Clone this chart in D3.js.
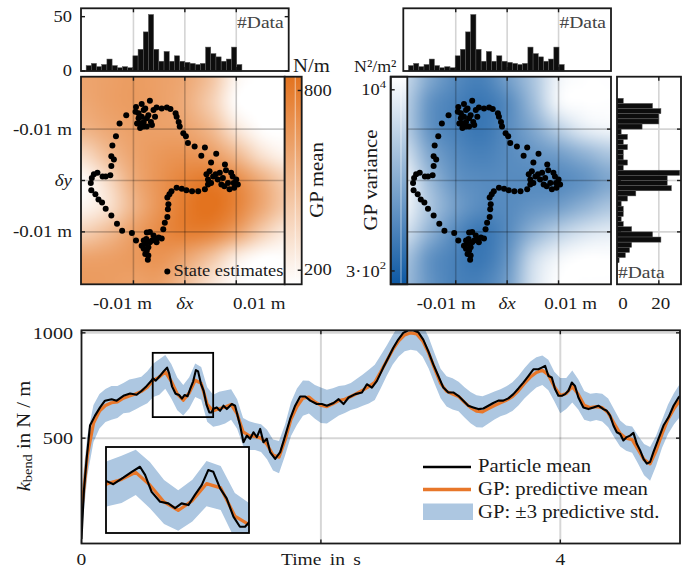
<!DOCTYPE html>
<html>
<head>
<meta charset="utf-8">
<script src="https://cdn.jsdelivr.net/npm/d3@7"></script>
<style>
  body { margin: 0; background: #fff; }
  svg { display: block; background: #fff; }
  text { font-family: "Liberation Serif", "Times New Roman", serif; }
</style>
</head>
<body>
<svg id="chart" width="686" height="571"></svg>
<script>
// ---------- data (positions in mm, stiffness in N/m, time in s) ----------

// histogram of delta x (top), bins of ~1 mm starting at histXStart
const histXStart = -19.2;
const histXWidth = 1.01;
const histXCounts = [5, 7, 4, 6, 11, 5, 3, 4, 3, 14, 20, 36, 52, 20, 9, 18, 9, 14, 9, 8, 7, 6, 7, 22, 16, 13, 9, 11, 22, 6];

// histogram of delta y (side), bins from histYStart downwards
const histYStart = 16.0;
const histYWidth = 1.0;
const histYCounts = [3, 17, 21, 20, 20, 12, 2, 5, 3, 5, 3, 3, 5, 3, 30, 24, 24, 26, 9, 5, 2, 3, 3, 2, 3, 7, 17, 21, 7, 6, 4, 1];

// state estimates (delta x, delta y) in mm
const dotsX = [-11.4, -12.7, -13.4, -14.1, -14.3, -13.8, -14.3, -14.5, -15.4, -16.0, -17.0, -17.7, -18.1, -18.3, -18.2, -17.4, -16.8, -16.1, -15.4, -14.3,
  -13.2, -12.2, -10.3, -9.5, -8.4, -8.0, -7.5, -7.4, -6.8, -6.1, -6.8, -7.7, -7.1, -8.0, -7.4, -7.7, -7.1, -7.2, -6.4, -5.8,
  -5.5, -5.1, -4.5, -4.2, -3.9, -3.4, -3.3, -3.2, -3.4, -3.0, -2.6, -1.6, -0.6, 0.3, 1.4, 2.6, 3.9, 4.5, 4.2, 4.8,
  5.5, 4.5, 5.1, 6.0, 6.8, 7.4, 7.1, 7.7, 8.7, 9.6, 10.3, 10.0, 9.3, 9.0, 8.0, 6.4, 8.4, 9.5, 7.8, 6.1,
  5.1, 3.9, 3.2, 1.9, 0.6, 0.2, -0.3, -1.0, -1.2, -1.6, -1.8, -2.8, -3.5, -4.5, -5.5, -6.8, -8.4, -9.5, -7.7, -6.1,
  -9.0, -8.0, -7.1, -8.4, -9.0, -7.4, -5.8, -6.6, -8.0, -9.3, -7.4, -8.7, -6.4, -9.6, -8.0, -8.7];
const dotsY = [12.7, 11.1, 8.6, 6.8, 4.7, 4.1, 2.8, 1.0, 0.8, 0.8, 1.5, 1.2, 0.5, -0.5, -1.9, -2.7, -3.7, -4.3, -5.5, -6.8,
  -8.4, -9.8, -10.2, -11.7, -12.7, -11.7, -11.4, -10.1, -10.0, -10.7, -12.0, -12.3, -13.0, -13.3, -13.6, -14.3, -14.6, -15.4, -11.7, -11.4,
  -12.0, -11.1, -11.3, -9.5, -8.2, -7.1, -5.6, -4.6, -3.3, -2.7, -2.1, -1.4, -1.6, -1.9, -2.1, -2.1, -1.7, -0.8, 1.2, 1.8,
  0.8, 0.2, -0.5, 1.2, 1.5, 0.5, -0.8, -1.1, -1.7, -1.4, -0.8, 0.2, 0.8, 1.5, 2.0, 0.2, -0.5, -0.5, 3.1, 5.2,
  3.5, 6.4, 4.8, 6.6, 7.3, 8.6, 9.2, 10.5, 11.4, 12.4, 13.1, 13.9, 14.2, 14.0, 14.2, 15.5, 14.9, 14.3, 14.0, 13.7,
  13.1, 13.7, 12.7, 12.4, 12.1, 12.1, 12.4, 11.4, 11.4, 11.1, 10.5, 10.2, 10.8, 13.4, 10.5, 11.1];

// GP surfaces sampled on a 5 mm grid (rows: delta y from +20 to -20, cols: delta x from -20 to +20)
const gridX = [-20, -15, -10, -5, 0, 5, 10, 15, 20];
const gridY = [20, 15, 10, 5, 0, -5, -10, -15, -20];
const gpMeanGrid = [
  [600, 620, 640, 620, 580, 450, 200, 150, 150],
  [580, 620, 640, 620, 560, 400, 170, 150, 150],
  [520, 580, 620, 620, 600, 500, 280, 160, 150],
  [330, 480, 600, 660, 680, 640, 500, 300, 200],
  [170, 330, 560, 680, 760, 800, 720, 550, 380],
  [200, 300, 520, 680, 800, 850, 760, 580, 400],
  [380, 480, 620, 720, 780, 760, 620, 400, 250],
  [600, 620, 650, 680, 600, 450, 250, 160, 160],
  [650, 640, 620, 620, 480, 300, 170, 150, 160]
];
// log10 of GP variance
const gpLogVarGrid = [
  [3.7, 3.2, 2.9, 2.8, 3.1, 3.5, 4.0, 4.1, 4.1],
  [3.6, 3.0, 2.8, 2.7, 2.9, 3.4, 4.0, 4.1, 4.1],
  [3.6, 3.0, 2.8, 2.7, 2.9, 3.2, 3.6, 3.9, 4.0],
  [3.8, 3.2, 2.9, 2.8, 2.9, 3.0, 3.1, 3.3, 3.5],
  [4.0, 3.4, 3.0, 2.9, 2.9, 2.9, 2.9, 3.0, 3.2],
  [4.0, 3.5, 3.1, 2.9, 2.9, 3.0, 3.1, 3.3, 3.5],
  [3.8, 3.3, 2.9, 2.7, 2.9, 3.3, 3.6, 3.8, 3.9],
  [3.5, 3.0, 2.8, 2.7, 3.0, 3.7, 4.0, 4.1, 4.1],
  [3.4, 3.0, 2.8, 2.8, 3.1, 3.8, 4.1, 4.1, 4.1]
];
const meanRange = [153, 846];       // colour limits, N/m
const logVarRange = [2.365, 4.11];  // colour limits, log10(N^2/m^2)

const mapTicks = [-10, 0, 10];
const mapXLabels = ['-0.01 m', 'δx', '0.01 m'];
const mapYLabels = ['-0.01 m', 'δy', '-0.01 m'];

// particle mean of k_bend
const pmTime = [0, 0.02, 0.043, 0.071, 0.113, 0.155, 0.196, 0.252, 0.294, 0.35, 0.406, 0.461, 0.503, 0.545, 0.587, 0.597, 0.621, 0.656, 0.686, 0.715,
  0.733, 0.756, 0.786, 0.815, 0.839, 0.862, 0.886, 0.909, 0.933, 0.956, 0.974, 0.998, 1.021, 1.045, 1.068, 1.086, 1.102, 1.13, 1.158, 1.186,
  1.214, 1.256, 1.283, 1.325, 1.353, 1.381, 1.409, 1.437, 1.465, 1.493, 1.52, 1.548, 1.576, 1.618, 1.66, 1.702, 1.743, 1.785, 1.827, 1.869,
  1.911, 1.966, 2.008, 2.05, 2.106, 2.148, 2.189, 2.231, 2.287, 2.343, 2.384, 2.426, 2.468, 2.521, 2.563, 2.605, 2.646, 2.688, 2.73, 2.771,
  2.813, 2.855, 2.897, 2.939, 2.981, 3.023, 3.065, 3.106, 3.148, 3.19, 3.231, 3.273, 3.315, 3.357, 3.399, 3.44, 3.482, 3.524, 3.566, 3.608,
  3.65, 3.691, 3.733, 3.775, 3.817, 3.845, 3.873, 3.901, 3.929, 3.956, 3.984, 4.012, 4.04, 4.068, 4.096, 4.123, 4.151, 4.193, 4.235, 4.277,
  4.318, 4.36, 4.388, 4.416, 4.444, 4.472, 4.5, 4.527, 4.555, 4.583, 4.611, 4.639, 4.667, 4.695, 4.723, 4.75, 4.778, 4.82, 4.862, 4.904,
  4.946, 4.988, 5.0];
const pmValue = [20, 250, 402, 560, 607, 646, 678, 685, 678, 701, 712, 706, 725, 748, 775, 784, 773, 796, 817, 835,
  806, 746, 711, 705, 688, 705, 699, 735, 770, 823, 817, 758, 723, 658, 622, 622, 640, 646, 630, 654,
  638, 662, 654, 560, 481, 512, 497, 528, 505, 544, 481, 497, 434, 402, 434, 512, 591, 654, 698, 698,
  678, 662, 662, 654, 667, 685, 662, 693, 709, 717, 756, 740, 772, 835, 882, 929, 968, 1000, 1012, 1012,
  1003, 968, 913, 850, 795, 740, 717, 717, 701, 678, 654, 646, 638, 641, 654, 667, 678, 678, 689, 709,
  736, 764, 795, 827, 827, 835, 843, 795, 788, 733, 701, 701, 709, 725, 764, 748, 693, 646, 638, 646,
  654, 638, 630, 607, 560, 528, 520, 489, 505, 512, 525, 473, 442, 402, 379, 387, 434, 497, 560, 599,
  654, 693, 700];

// GP predictive mean and 3-sigma half width, every 0.05 s
const gpStep = 0.05;
const gpMean = [150, 420, 570, 628, 655, 668, 672, 690, 700, 710,
  722, 742, 775, 790, 815, 770, 710, 680, 715, 775,
  760, 660, 630, 640, 648, 660, 615, 530, 512, 508,
  500, 470, 420, 410, 490, 590, 650, 690, 695, 672,
  656, 650, 663, 678, 685, 698, 712, 728, 745, 765,
  815, 868, 920, 962, 990, 1000, 995, 962, 905, 830,
  760, 722, 710, 698, 670, 645, 628, 625, 640, 655,
  668, 680, 697, 725, 760, 790, 812, 822, 800, 745,
  702, 712, 745, 708, 656, 645, 650, 645, 620, 570,
  522, 500, 493, 445, 398, 378, 440, 520, 590, 640,
  680];
const gpBand = [110, 95, 88, 82, 78, 80, 76, 72, 78, 74,
  70, 76, 80, 84, 80, 82, 78, 72, 74, 80,
  78, 82, 76, 80, 78, 72, 70, 66, 68, 64,
  66, 70, 74, 76, 74, 80, 86, 84, 78, 80,
  84, 80, 74, 70, 66, 64, 70, 74, 80, 84,
  78, 72, 70, 74, 78, 80, 80, 76, 74, 72,
  70, 72, 74, 70, 72, 74, 76, 74, 70, 66,
  64, 66, 68, 70, 72, 74, 72, 70, 72, 70,
  84, 74, 76, 72, 68, 66, 64, 66, 68, 66,
  62, 60, 62, 66, 74, 80, 72, 66, 70, 74,
  78];

const timeTicks = [0, 2, 4];
const timeTickLabels = ['0', 'Time in s', '4'];
const kTicks = [500, 1000];
const zoomWindow = { t: [0.595, 1.10], k: [600, 905] };

// ---------- setup ----------
const svg = d3.select('#chart');
const defs = svg.append('defs');
const ink = '#1a1a1a';
const orange = '#e8772a';
const bandBlue = '#adc7e1';

const mmDomain = [-20.2, 20.2];
const leftX = d3.scaleLinear(mmDomain, [81, 288.7]);
const rightX = d3.scaleLinear(mmDomain, [403.3, 611]);
const mapY = d3.scaleLinear(mmDomain, [284.3, 76.7]);
const topHistY = d3.scaleLinear([0, 57.7], [71, 8.3]);
const sideHistX = d3.scaleLinear([0, 30.6], [617, 681]);

const meanColor = d3.scaleLinear(meanRange, ['#ffffff', '#e3731f']).clamp(true);
const varColor = d3.scaleLinear(logVarRange, ['#0d58a3', '#ffffff']).clamp(true);

// text helper, glyphs are a bit wider in the original so stretch them horizontally
function label(x, y, str, o = {}) {
  const t = svg.append('text')
    .attr('transform', `translate(${x},${y})` + (o.rotate ? ` rotate(${o.rotate})` : '') + ` scale(${o.stretch || 1.15},1)`)
    .attr('font-size', o.size || 16)
    .attr('text-anchor', o.anchor || 'middle')
    .attr('dominant-baseline', 'central')
    .attr('fill', o.fill || ink);
  if (o.italic) t.attr('font-style', 'italic');
  if (o.wordSpacing) t.attr('word-spacing', o.wordSpacing);
  if (str != null) t.text(str);
  return t;
}

// axes box with inward ticks
function frame(x0, y0, x1, y1, xt, yt, sides) {
  const g = svg.append('g').attr('stroke', ink).attr('stroke-width', 1.4);
  const L = 4;
  xt.forEach(x => {
    if (sides.includes('t')) g.append('line').attr('x1', x).attr('x2', x).attr('y1', y0).attr('y2', y0 + L);
    if (sides.includes('b')) g.append('line').attr('x1', x).attr('x2', x).attr('y1', y1).attr('y2', y1 - L);
  });
  yt.forEach(y => {
    if (sides.includes('l')) g.append('line').attr('x1', x0).attr('x2', x0 + L).attr('y1', y).attr('y2', y);
    if (sides.includes('r')) g.append('line').attr('x1', x1).attr('x2', x1 - L).attr('y1', y).attr('y2', y);
  });
  g.append('rect').attr('x', x0).attr('y', y0).attr('width', x1 - x0).attr('height', y1 - y0)
    .attr('fill', 'none').attr('stroke-width', 1.8);
}

// Catmull-Rom sampling of the coarse GP grids
function cubic(p0, p1, p2, p3, t) {
  return p1 + 0.5 * t * (p2 - p0 + t * (2 * p0 - 5 * p1 + 4 * p2 - p3 + t * (3 * (p1 - p2) + p3 - p0)));
}
function sample(grid, fx, fy) {
  const rows = grid.length, cols = grid[0].length;
  const ix = Math.min(Math.floor(fx), cols - 2), iy = Math.min(Math.floor(fy), rows - 2);
  const tx = fx - ix, ty = fy - iy;
  const at = (r, c) => grid[Math.max(0, Math.min(rows - 1, r))][Math.max(0, Math.min(cols - 1, c))];
  const row = k => cubic(at(iy + k, ix - 1), at(iy + k, ix), at(iy + k, ix + 1), at(iy + k, ix + 2), tx);
  return cubic(row(-1), row(0), row(1), row(2), ty);
}
function fieldImage(grid, color) {
  const n = 160;
  const canvas = document.createElement('canvas');
  canvas.width = n; canvas.height = n;
  const ctx = canvas.getContext('2d');
  const img = ctx.createImageData(n, n);
  const toCol = d3.scaleLinear([gridX[0], gridX[gridX.length - 1]], [0, gridX.length - 1]).clamp(true);
  const toRow = d3.scaleLinear([gridY[0], gridY[gridY.length - 1]], [0, gridY.length - 1]).clamp(true);
  const px = d3.scaleLinear([0, n], mmDomain);
  const py = d3.scaleLinear([0, n], [mmDomain[1], mmDomain[0]]);
  for (let j = 0; j < n; j++) {
    for (let i = 0; i < n; i++) {
      const c = d3.rgb(color(sample(grid, toCol(px(i + 0.5)), toRow(py(j + 0.5)))));
      const k = 4 * (j * n + i);
      img.data[k] = c.r; img.data[k + 1] = c.g; img.data[k + 2] = c.b; img.data[k + 3] = 255;
    }
  }
  ctx.putImageData(img, 0, 0);
  return canvas.toDataURL();
}

// ---------- top histograms ----------
function topHist(xs, withAxis) {
  svg.append('g').selectAll('line').data(mapTicks).join('line')
    .attr('x1', d => xs(d)).attr('x2', d => xs(d))
    .attr('y1', topHistY.range()[1]).attr('y2', topHistY(0))
    .attr('stroke', '#d4d4d4').attr('stroke-width', 1.6);
  svg.append('g').selectAll('rect').data(histXCounts).join('rect')
    .attr('x', (d, i) => xs(histXStart + i * histXWidth))
    .attr('width', xs(histXWidth) - xs(0))
    .attr('y', d => topHistY(d))
    .attr('height', d => topHistY(0) - topHistY(d))
    .attr('fill', '#0d0d0d').attr('stroke', '#5a5a5a').attr('stroke-width', 0.5);
  frame(xs(-20.2), topHistY.range()[1], xs(20.2), topHistY(0), mapTicks.map(xs), withAxis ? [topHistY(50), topHistY(0)] : [], 'tblr');
  label(xs(20.2) - 5, 22, '#Data', { anchor: 'end', size: 17, fill: '#444' });
  if (withAxis) {
    label(72, topHistY(50), '50', { anchor: 'end' });
    label(72, topHistY(0), '0', { anchor: 'end' });
  }
}
topHist(leftX, true);
topHist(rightX, false);

// ---------- GP maps ----------
function mapPanel(xs, visX0, visX1, grid, color, clipId) {
  defs.append('clipPath').attr('id', clipId).append('rect')
    .attr('x', visX0).attr('y', mapY(20.2))
    .attr('width', visX1 - visX0).attr('height', mapY(-20.2) - mapY(20.2));
  const g = svg.append('g').attr('clip-path', `url(#${clipId})`);
  g.append('image')
    .attr('href', fieldImage(grid, color))
    .attr('x', xs(-20.2)).attr('y', mapY(20.2))
    .attr('width', xs(20.2) - xs(-20.2)).attr('height', mapY(-20.2) - mapY(20.2))
    .attr('preserveAspectRatio', 'none');
  g.selectAll('line.v').data(mapTicks).join('line').attr('class', 'v')
    .attr('x1', d => xs(d)).attr('x2', d => xs(d)).attr('y1', mapY(20.2)).attr('y2', mapY(-20.2))
    .attr('stroke', '#000').attr('stroke-opacity', 0.22).attr('stroke-width', 1.6);
  g.selectAll('line.h').data(mapTicks).join('line').attr('class', 'h')
    .attr('x1', visX0).attr('x2', visX1).attr('y1', d => mapY(d)).attr('y2', d => mapY(d))
    .attr('stroke', '#000').attr('stroke-opacity', 0.22).attr('stroke-width', 1.6);
  svg.append('g').selectAll('circle').data(dotsX).join('circle')
    .attr('cx', d => xs(d)).attr('cy', (d, i) => mapY(dotsY[i]))
    .attr('r', 3).attr('fill', '#000');
}

function colorbar(x0, x1, color, top, bottom, id) {
  const grad = defs.append('linearGradient').attr('id', id)
    .attr('x1', 0).attr('x2', 0).attr('y1', 0).attr('y2', 1);
  d3.range(0, 1.0001, 0.1).forEach(s => grad.append('stop')
    .attr('offset', s).attr('stop-color', color(top + s * (bottom - top))));
  svg.append('rect').attr('x', x0).attr('y', mapY(20.2)).attr('width', x1 - x0)
    .attr('height', mapY(-20.2) - mapY(20.2)).attr('fill', `url(#${id})`);
  // faint light stripe seen in the rendered colour bars
  svg.append('line').attr('x1', x0 + (x1 - x0) * 0.62).attr('x2', x0 + (x1 - x0) * 0.62)
    .attr('y1', mapY(20.2)).attr('y2', mapY(-20.2))
    .attr('stroke', '#fff').attr('stroke-opacity', 0.55).attr('stroke-width', 1);
}

// left: GP mean
mapPanel(leftX, 81, 284.7, gpMeanGrid, meanColor, 'clipMean');
frame(81, mapY(20.2), 284.7, mapY(-20.2), mapTicks.map(leftX), mapTicks.map(mapY), 'tbl');
const cbMean = d3.scaleLinear(meanRange, [mapY(-20.2), mapY(20.2)]);
colorbar(284.7, 301.7, meanColor, meanRange[1], meanRange[0], 'gradMean');
frame(284.7, mapY(20.2), 301.7, mapY(-20.2), [], [cbMean(800), cbMean(200)], 'r');
label(304, cbMean(800), '800', { anchor: 'start' });
label(304, cbMean(200), '200', { anchor: 'start' });
label(293, 66, 'N/m', { anchor: 'start', size: 18 });
label(317, 180, 'GP mean', { rotate: -90, size: 18 });

// state estimates legend
svg.append('circle').attr('cx', 167.3).attr('cy', 271.5).attr('r', 3).attr('fill', '#000');
label(173.5, 271, 'State estimates', { anchor: 'start', size: 16 });

// right: GP variance
mapPanel(rightX, 407.3, 611, gpLogVarGrid, varColor, 'clipVar');
const cbVar = d3.scaleLog([Math.pow(10, logVarRange[0]), Math.pow(10, logVarRange[1])], [mapY(-20.2), mapY(20.2)]);
colorbar(390.7, 407.3, varColor, logVarRange[1], logVarRange[0], 'gradVar');
frame(390.7, mapY(20.2), 611, mapY(-20.2), mapTicks.map(rightX), mapTicks.map(mapY), 'tbr');
frame(390.7, mapY(20.2), 407.3, mapY(-20.2), [], [cbVar(1e4), cbVar(300)], 'l');
label(386, cbVar(1e4), null, { anchor: 'end' }).call(t => {
  t.append('tspan').text('10');
  t.append('tspan').attr('font-size', 11).attr('dy', -6).text('4');
});
label(386, cbVar(300), null, { anchor: 'end' }).call(t => {
  t.append('tspan').text('3·10');
  t.append('tspan').attr('font-size', 11).attr('dy', -6).text('2');
});
label(354, 66, 'N²/m²', { anchor: 'start', size: 17, stretch: 1.05 });
label(371, 180, 'GP variance', { rotate: -90, size: 18 });

// map axis labels
mapYLabels.forEach((s, i) => label(72, mapY(mapTicks[i]), s, { anchor: 'end', size: 16.5, italic: i === 1 }));
const leftOffsets = [-11, 0, 23];
const rightOffsets = [-9.5, 0, 12];
mapXLabels.forEach((s, i) => {
  label(leftX(mapTicks[i]) + leftOffsets[i], 303, s, { size: 16.5, italic: i === 1 });
  label(rightX(mapTicks[i]) + rightOffsets[i], 303, s, { size: 16.5, italic: i === 1 });
});

// ---------- side histogram of delta y ----------
svg.append('g').selectAll('line').data([20]).join('line')
  .attr('x1', d => sideHistX(d)).attr('x2', d => sideHistX(d)).attr('y1', mapY(20.2)).attr('y2', mapY(-20.2))
  .attr('stroke', '#d4d4d4').attr('stroke-width', 1.6);
svg.append('g').selectAll('line').data(mapTicks).join('line')
  .attr('x1', sideHistX(0)).attr('x2', sideHistX(30.6)).attr('y1', d => mapY(d)).attr('y2', d => mapY(d))
  .attr('stroke', '#d4d4d4').attr('stroke-width', 1.6);
svg.append('g').selectAll('rect').data(histYCounts).join('rect')
  .attr('x', sideHistX(0))
  .attr('y', (d, i) => mapY(histYStart - i * histYWidth))
  .attr('width', d => sideHistX(d) - sideHistX(0))
  .attr('height', mapY(0) - mapY(histYWidth))
  .attr('fill', '#0d0d0d').attr('stroke', '#5a5a5a').attr('stroke-width', 0.5);
frame(sideHistX(0), mapY(20.2), sideHistX(30.6), mapY(-20.2), [sideHistX(20)], mapTicks.map(mapY), 'tblr');
label(618, 272, '#Data', { anchor: 'start', size: 17, fill: '#444' });
label(sideHistX(0) + 6, 303, '0', { size: 16.5 });
label(sideHistX(20) + 2, 303, '20', { size: 16.5 });

// ---------- k_bend over time ----------
const tX = d3.scaleLinear([0, 5], [81.5, 680]);
const kY = d3.scaleLinear([0, 1012], [543.5, 330.3]);
const gp = gpMean.map((m, i) => ({ t: i * gpStep, m, h: gpBand[i] }));
const pm = pmTime.map((t, i) => ({ t, v: pmValue[i] }));

function drawSeries(g, xs, ys) {
  g.append('path').datum(gp)
    .attr('d', d3.area().x(d => xs(d.t)).y0(d => ys(d.m - d.h)).y1(d => ys(d.m + d.h)))
    .attr('fill', bandBlue);
  return () => {
    g.append('path').datum(gp)
      .attr('d', d3.line().x(d => xs(d.t)).y(d => ys(d.m)))
      .attr('fill', 'none').attr('stroke', orange).attr('stroke-width', 3.2).attr('stroke-linejoin', 'round');
    g.append('path').datum(pm)
      .attr('d', d3.line().x(d => xs(d.t)).y(d => ys(d.v)))
      .attr('fill', 'none').attr('stroke', '#000').attr('stroke-width', 2.1).attr('stroke-linejoin', 'round');
  };
}

defs.append('clipPath').attr('id', 'clipMain').append('rect')
  .attr('x', tX(0)).attr('y', kY(1012)).attr('width', tX(5) - tX(0)).attr('height', kY(0) - kY(1012));
const main = svg.append('g').attr('clip-path', 'url(#clipMain)');
const mainLines = drawSeries(main, tX, kY);
main.selectAll('line.gv').data(timeTicks.slice(1)).join('line').attr('class', 'gv')
  .attr('x1', d => tX(d)).attr('x2', d => tX(d)).attr('y1', kY(1012)).attr('y2', kY(0))
  .attr('stroke', '#000').attr('stroke-opacity', 0.16).attr('stroke-width', 2);
main.selectAll('line.gh').data(kTicks).join('line').attr('class', 'gh')
  .attr('x1', tX(0)).attr('x2', tX(5)).attr('y1', d => kY(d)).attr('y2', d => kY(d))
  .attr('stroke', '#000').attr('stroke-opacity', 0.16).attr('stroke-width', 2);
mainLines();

// zoom window marker
svg.append('rect')
  .attr('x', tX(zoomWindow.t[0])).attr('y', kY(zoomWindow.k[1]))
  .attr('width', tX(zoomWindow.t[1]) - tX(zoomWindow.t[0]))
  .attr('height', kY(zoomWindow.k[0]) - kY(zoomWindow.k[1]))
  .attr('fill', 'none').attr('stroke', '#000').attr('stroke-width', 1.8);

// inset
const inX = d3.scaleLinear(zoomWindow.t, [106, 249]);
const inY = d3.scaleLinear(zoomWindow.k, [533, 447]);
svg.append('rect').attr('x', 106).attr('y', 447).attr('width', 143).attr('height', 86).attr('fill', '#fff');
defs.append('clipPath').attr('id', 'clipInset').append('rect')
  .attr('x', 106).attr('y', 447).attr('width', 143).attr('height', 86);
const inset = svg.append('g').attr('clip-path', 'url(#clipInset)');
drawSeries(inset, inX, inY)();
svg.append('rect').attr('x', 106).attr('y', 447).attr('width', 143).attr('height', 86)
  .attr('fill', 'none').attr('stroke', '#000').attr('stroke-width', 1.8);

frame(tX(0), kY(1012), tX(5), kY(0), timeTicks.map(tX), kTicks.map(kY), 'tblr');
timeTickLabels.forEach((s, i) => label(tX(timeTicks[i]), 559, s, { size: 17, wordSpacing: 3 }));
kTicks.forEach(k => label(73, kY(k), String(k), { anchor: 'end', size: 17.5 }));
label(23.5, 436, null, { rotate: -90, size: 18 }).call(t => {
  t.append('tspan').attr('font-style', 'italic').text('k');
  t.append('tspan').attr('font-size', 12.5).attr('dy', 4).text('bend');
  t.append('tspan').attr('dy', -4).text(' in N / m');
});

// legend
const legend = svg.append('g');
legend.append('line').attr('x1', 423).attr('x2', 471).attr('y1', 467).attr('y2', 467)
  .attr('stroke', '#000').attr('stroke-width', 2.3);
legend.append('line').attr('x1', 423).attr('x2', 471).attr('y1', 489.5).attr('y2', 489.5)
  .attr('stroke', orange).attr('stroke-width', 3.4);
legend.append('rect').attr('x', 423).attr('y', 503.5).attr('width', 50).attr('height', 16.5).attr('fill', bandBlue);
label(478, 465.5, 'Particle mean', { anchor: 'start', size: 18 });
label(478, 488.5, 'GP: predictive mean', { anchor: 'start', size: 18 });
label(478, 511.5, 'GP: ±3 predictive std.', { anchor: 'start', size: 18 });
</script>
</body>
</html>
